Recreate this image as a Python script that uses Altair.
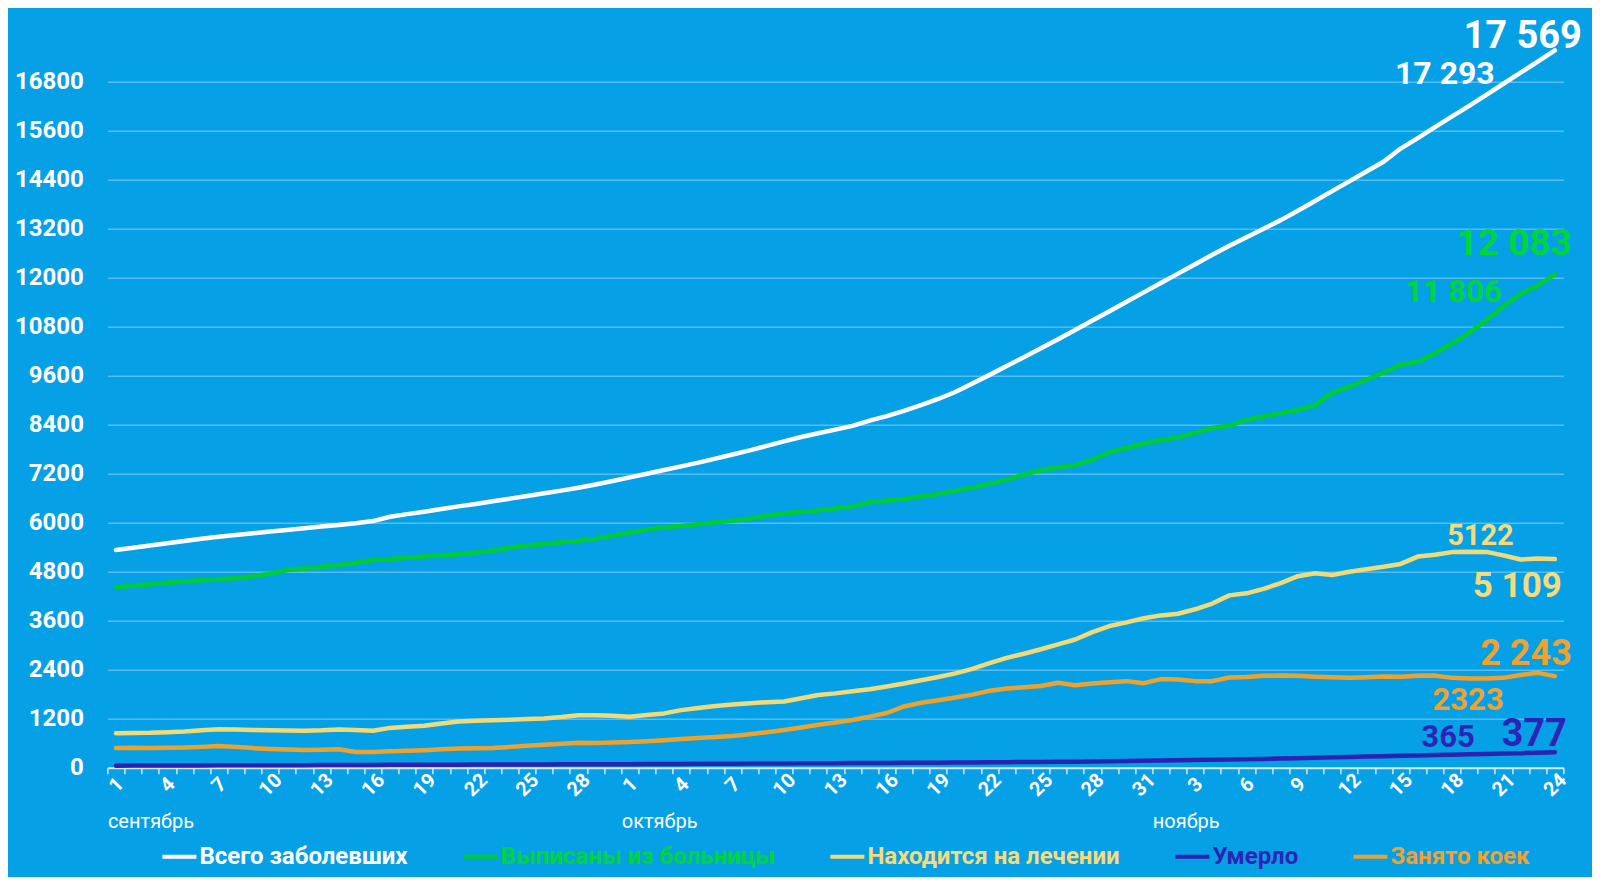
import json
import altair as alt
import pandas as pd

# ---------------- data ----------------
series_names = ["Всего заболевших", "Выписаны из больницы", "Находится на лечении", "Умерло", "Занято коек"]
line_colors = ["#FFFFFF", "#00CC33", "#F3DA78", "#2B22B0", "#EEA22E"]
text_colors = ["#FFFFFF", "#00D53C", "#F5DB7B", "#2B25B5", "#F0A12E"]

month_names = ["сентябрь", "октябрь", "ноябрь"]
month_days_shown = [30, 31, 24]
month_start = [0, 30, 61]

total = [5330, 5385, 5440, 5495, 5550, 5605, 5657, 5700, 5740, 5782,
         5823, 5864, 5905, 5945, 5985, 6040, 6147, 6210, 6270, 6335,
         6400, 6460, 6525, 6590, 6655, 6720, 6785, 6855, 6935, 7020,
         7110, 7200, 7290, 7380, 7470, 7570, 7670, 7770, 7880, 7990,
         8100, 8190, 8280, 8370, 8500, 8610, 8740, 8880, 9030, 9200,
         9410, 9620, 9840, 10050, 10270, 10490, 10720, 10950, 11180, 11410,
         11640, 11870, 12100, 12330, 12560, 12780, 12990, 13200, 13410, 13640,
         13880, 14120, 14360, 14600, 14840, 15162, 15420, 15690, 15950, 16210,
         16480, 16750, 17020, 17293, 17569]
discharged = [4420, 4460, 4495, 4530, 4560, 4590, 4615, 4640, 4690, 4750,
              4840, 4880, 4920, 4960, 5020, 5085, 5110, 5140, 5175, 5200,
              5230, 5270, 5320, 5390, 5440, 5480, 5520, 5560, 5610, 5680,
              5760, 5830, 5890, 5920, 5960, 6010, 6050, 6100, 6170, 6230,
              6260, 6300, 6350, 6400, 6500, 6540, 6580, 6640, 6700, 6780,
              6860, 6950, 7050, 7180, 7290, 7350, 7410, 7540, 7730, 7830,
              7940, 8020, 8090, 8200, 8320, 8380, 8520, 8600, 8680, 8760,
              8880, 9180, 9330, 9500, 9680, 9870, 9940, 10150, 10390, 10650,
              10960, 11300, 11600, 11806, 12083]
treated = [843, 850, 855, 870, 885, 920, 940, 935, 925, 915,
           908, 905, 915, 935, 925, 905, 975, 1000, 1025, 1080,
           1130, 1150, 1160, 1175, 1190, 1205, 1240, 1285, 1285, 1270,
           1250, 1290, 1330, 1410, 1460, 1510, 1550, 1580, 1605, 1620,
           1700, 1780, 1820, 1870, 1920, 1990, 2060, 2140, 2220, 2310,
           2420, 2560, 2690, 2790, 2900, 3020, 3140, 3320, 3470, 3560,
           3660, 3730, 3770, 3880, 4020, 4220, 4270, 4380, 4520, 4690,
           4760, 4720, 4800, 4860, 4920, 4990, 5170, 5215, 5280, 5290,
           5285, 5200, 5100, 5122, 5109]
died = [50, 51, 52, 53, 55, 56, 57, 58, 60, 61,
        62, 63, 65, 66, 67, 68, 70, 71, 72, 73,
        75, 76, 77, 78, 80, 81, 82, 84, 85, 86,
        87, 89, 90, 92, 94, 96, 98, 100, 102, 104,
        107, 109, 111, 113, 115, 117, 119, 121, 123, 126,
        129, 132, 135, 138, 141, 144, 147, 150, 156, 162,
        168, 174, 180, 187, 194, 201, 208, 216, 224, 232,
        245, 254, 263, 272, 281, 290, 299, 308, 318, 328,
        338, 347, 356, 365, 377]
beds = [482, 490, 485, 490, 495, 510, 531, 510, 480, 460,
        445, 433, 440, 450, 384, 385, 400, 415, 430, 450,
        470, 475, 482, 510, 540, 560, 585, 610, 605, 615,
        630, 650, 675, 700, 725, 750, 776, 820, 870, 923,
        985, 1050, 1105, 1170, 1250, 1340, 1500, 1590, 1650, 1720,
        1790, 1886, 1940, 1970, 2000, 2080, 2020, 2060, 2090, 2120,
        2070, 2170, 2160, 2120, 2120, 2210, 2220, 2250, 2260, 2250,
        2230, 2215, 2200, 2215, 2235, 2230, 2250, 2255, 2200, 2185,
        2185, 2200, 2270, 2323, 2243]

y_ticks = list(range(0, 16801, 1200))
note_texts = ["17 569", "17 293", "12 083", "11 806", "5122", "5 109", "2 243", "2323", "365", "377"]

# ---------------- derived tables ----------------
all_series = [total, discharged, treated, died, beds]
n_days = len(total)
day_of_month = [d + 1 for m in month_days_shown for d in range(m)]
tick_labels = [str(v) if i % 3 == 0 else "" for i, v in enumerate(day_of_month)]

rows = []
for name, vals in zip(series_names, all_series):
    for d, v in enumerate(vals):
        rows.append({"day": d, "value": v, "series": name})
df = pd.DataFrame(rows)

BG = "#05A0E6"
FONT = "Roboto"
LIGHT = "#CDEBFA"

xscale = alt.Scale(domain=[-0.5, n_days - 0.5], nice=False, zero=False)
yscale = alt.Scale(domain=[0, 18000], nice=False)

px_per_day = 1456 / n_days

xaxis = alt.Axis(
    values=[i - 0.5 for i in range(n_days + 1)],
    labelExpr=json.dumps(tick_labels, ensure_ascii=False) + "[round(datum.value + 0.5)] || ''",
    title=None, grid=False,
    labelAngle=-45, labelAlign="center", labelBaseline="middle",
    labelOffset=px_per_day / 2, labelPadding=11,
    tickSize=6, tickColor=LIGHT, tickWidth=1.5,
    domainColor=LIGHT, domainWidth=2,
    labelColor="white", labelFont=FONT, labelFontWeight="bold", labelFontSize=20,
    labelOverlap=False, labelFlush=False, labelBound=False,
)
yaxis = alt.Axis(
    values=y_ticks, format="d", title=None, domain=False, ticks=False,
    labelColor="white", labelFont=FONT, labelFontWeight="bold", labelFontSize=24,
    labelPadding=24, gridColor="#58BDF0", gridWidth=1.5, gridOpacity=1,
)

color_map = json.dumps(dict(zip(series_names, text_colors)), ensure_ascii=False)
legend = alt.Legend(
    title=None, orient="none", legendX=53, legendY=805, direction="horizontal",
    symbolType="stroke", symbolStrokeWidth=4, symbolSize=1156,
    labelFont=FONT, labelFontWeight="bold", labelFontSize=24,
    labelColor={"expr": color_map + "[datum.value]"},
    labelOffset=1, columnPadding=47, padding=0, labelLimit=500,
)

lines = alt.Chart(df).mark_line(strokeWidth=4.5, strokeCap="round", strokeJoin="round").encode(
    x=alt.X("day:Q", scale=xscale, axis=xaxis),
    y=alt.Y("value:Q", scale=yscale, axis=yaxis),
    color=alt.Color("series:N", scale=alt.Scale(domain=series_names, range=line_colors), legend=legend),
    detail="series:N",
)

# month names as a second bottom axis
month_df = pd.DataFrame({"start": [s - 0.5 for s in month_start], "name": month_names})
month_expr = json.dumps({str(s - 0.5): n for s, n in zip(month_start, month_names)}, ensure_ascii=False)
month_axis = alt.Axis(
    orient="bottom", values=[s - 0.5 for s in month_start],
    labelExpr=month_expr + "[toString(datum.value)] || ''",
    title=None, grid=False, domain=False, ticks=False,
    labelAngle=0, labelAlign="left", labelBaseline="middle", labelPadding=54,
    labelColor="white", labelFont=FONT, labelFontSize=20,
    labelOverlap=False, labelFlush=False, labelBound=False,
)
months = alt.Chart(month_df).mark_point(opacity=0).encode(
    x=alt.X("start:Q", scale=xscale, axis=month_axis),
    y=alt.value(0),
)

def note(day, value, text, color, size, dx, dy):
    d = pd.DataFrame({"day": [day], "value": [value], "label": [text]})
    return alt.Chart(d).mark_text(
        align="right", baseline="alphabetic", dx=dx, dy=dy,
        font=FONT, fontWeight="bold", fontSize=size, color=color,
    ).encode(
        x=alt.X("day:Q", scale=xscale, axis=None),
        y=alt.Y("value:Q", scale=yscale),
        text="label:N",
    )

last, prev = n_days - 1, n_days - 2
notes = [
    note(last, total[last], note_texts[0], text_colors[0], 38, 27, -2),
    note(prev, total[prev], note_texts[1], text_colors[0], 32, -43, 22),
    note(last, discharged[last], note_texts[2], text_colors[1], 37, 17, -19),
    note(prev, discharged[prev], note_texts[3], text_colors[1], 31, -36, 16),
    note(prev, treated[prev], note_texts[4], text_colors[2], 29, -24, -14),
    note(last, treated[last], note_texts[5], text_colors[2], 35, 7, 38),
    note(last, beds[last], note_texts[6], text_colors[4], 36, 17, -11),
    note(prev, beds[prev], note_texts[7], text_colors[4], 31, -34, 37),
    note(prev, died[prev], note_texts[8], text_colors[3], 31, -63, -6),
    note(last, died[last], note_texts[9], text_colors[3], 38, 12, -6),
]

chart = alt.layer(lines, months, *notes).resolve_axis(x="independent").properties(
    width=1456, height=735,
    autosize=alt.AutoSizeParams(type="none"),
    padding={"left": 99.4, "top": 24.7, "right": 28.6, "bottom": 109.3},
    background=BG,
).configure_view(stroke=None)

chart.save("out.html", embed_options={"renderer": "svg", "actions": False})
